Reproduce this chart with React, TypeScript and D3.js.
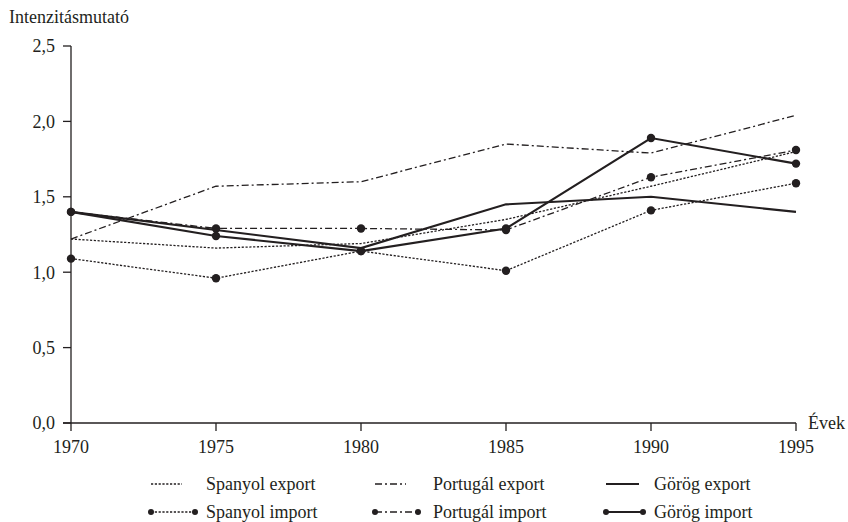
import React from 'react';
import * as d3 from 'd3';

const years = [1970, 1975, 1980, 1985, 1990, 1995];
const yTicks = [0, 0.5, 1.0, 1.5, 2.0, 2.5];

const spanyolExport = [1.22, 1.16, 1.19, 1.35, 1.57, 1.8];
const portugalExport = [1.22, 1.57, 1.6, 1.85, 1.79, 2.04];
const gorogExport = [1.4, 1.28, 1.16, 1.45, 1.5, 1.4];
const spanyolImport = [1.09, 0.96, 1.14, 1.01, 1.41, 1.59];
const portugalImport = [1.4, 1.29, 1.29, 1.28, 1.63, 1.81];
const gorogImport = [1.4, 1.24, 1.14, 1.29, 1.89, 1.72];

const W = 848;
const H = 522;
const ink = '#231f20';
const font = '"Liberation Serif", "Times New Roman", serif';

const dotted = { dash: '2.2,1.6', width: 1.3 };
const dashDot = { dash: '7,3,2,3', width: 1.3 };
const solid = { dash: null, width: 2.1 };

const series = [
  { name: 'Spanyol export', values: spanyolExport, style: dotted, markers: false },
  { name: 'Portugál export', values: portugalExport, style: dashDot, markers: false },
  { name: 'Görög export', values: gorogExport, style: solid, markers: false },
  { name: 'Spanyol import', values: spanyolImport, style: dotted, markers: true },
  { name: 'Portugál import', values: portugalImport, style: dashDot, markers: true },
  { name: 'Görög import', values: gorogImport, style: solid, markers: true },
];

const fmt = (v: number) => v.toFixed(1).replace('.', ',');

export default function App() {
  const x = d3.scaleLinear().domain([1970, 1995]).range([71, 796]);
  const y = d3.scaleLinear().domain([0, 2.5]).range([423, 46]);
  const line = d3
    .line<number>()
    .x((_, i) => x(years[i]))
    .y((d) => y(d));

  // legend layout: 3 columns, 2 rows
  const legendCols = [151, 375, 606];
  const sampleW = [[31, 44], [31, 43], [33, 37]];
  const legendTextX = [206, 433, 654];
  const legendRows = [484, 512];

  return (
    <svg
      width={W}
      height={H}
      style={{ position: 'absolute', left: 0, top: 0, background: '#fff' }}
      fontFamily={font}
      fill={ink}
    >
      <text x={9} y={23} fontSize={18}>Intenzitásmutató</text>

      {/* y axis */}
      <line x1={71} x2={71} y1={y(2.5)} y2={y(0)} stroke={ink} strokeWidth={1.3} />
      {yTicks.map((t) => (
        <g key={t}>
          <line x1={63} x2={71} y1={y(t)} y2={y(t)} stroke={ink} strokeWidth={1.3} />
          <text x={55} y={y(t)} dy="0.35em" textAnchor="end" fontSize={18}>
            {fmt(t)}
          </text>
        </g>
      ))}

      {/* x axis */}
      <line x1={63} x2={x(1995)} y1={y(0)} y2={y(0)} stroke={ink} strokeWidth={1.3} />
      {years.map((yr) => (
        <g key={yr}>
          <line x1={x(yr)} x2={x(yr)} y1={y(0)} y2={y(0) + 8} stroke={ink} strokeWidth={1.3} />
          <text x={x(yr)} y={453} textAnchor="middle" fontSize={18}>{yr}</text>
        </g>
      ))}
      <text x={808} y={429} fontSize={18}>Évek</text>

      {/* series */}
      {series.map((s) => (
        <g key={s.name}>
          <path
            d={line(s.values) || ''}
            fill="none"
            stroke={ink}
            strokeWidth={s.style.width}
            strokeDasharray={s.style.dash || undefined}
          />
          {s.markers &&
            s.values.map((v, i) => (
              <circle key={i} cx={x(years[i])} cy={y(v)} r={4.2} fill={ink} />
            ))}
        </g>
      ))}

      {/* legend */}
      {series.map((s, i) => {
        const col = i % 3;
        const row = Math.floor(i / 3);
        const x0 = legendCols[col];
        const x1 = x0 + sampleW[col][row];
        const ly = legendRows[row];
        return (
          <g key={'lg' + s.name}>
            <line
              x1={x0}
              x2={x1}
              y1={ly}
              y2={ly}
              stroke={ink}
              strokeWidth={s.style.width}
              strokeDasharray={s.style.dash || undefined}
            />
            {s.markers && (
              <>
                <circle cx={x0} cy={ly} r={3} fill={ink} />
                <circle cx={x1} cy={ly} r={3} fill={ink} />
              </>
            )}
            <text x={legendTextX[col]} y={ly} dy="0.35em" fontSize={18}>{s.name}</text>
          </g>
        );
      })}
    </svg>
  );
}
